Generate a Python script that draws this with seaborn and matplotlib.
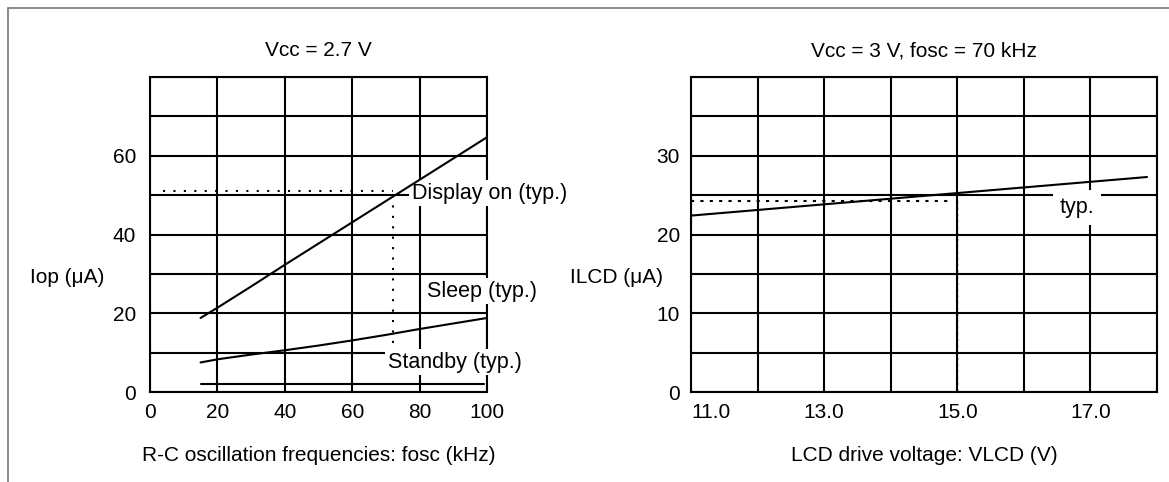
import numpy as np
import pandas as pd
import matplotlib
matplotlib.use("Agg")
import matplotlib.pyplot as plt
import seaborn as sns
from matplotlib.ticker import MultipleLocator
from matplotlib.lines import Line2D

# --- data ---
fosc = [15, 20, 30, 40, 50, 60, 70, 80, 90, 100]
display_on = [18.8, 21.4, 26.8, 32.3, 37.7, 43.1, 48.5, 53.9, 59.3, 64.7]
sleep = [7.5, 8.3, 9.5, 10.6, 11.8, 13.1, 14.5, 16.0, 17.4, 18.8]
standby_x = [15, 99]
standby = [2.0, 2.0]

vlcd = [11.0, 17.85]
ilcd = [22.4, 27.3]

left_xticks = [0, 20, 40, 60, 80, 100]
left_yticks = [0, 20, 40, 60]
right_xticks = [11, 13, 15, 17]
right_xlabels = ["11.0", "13.0", "15.0", "17.0"]
right_yticks = [0, 10, 20, 30]

sns.set_style("white")
plt.rcParams['font.family'] = ['Liberation Sans', 'DejaVu Sans']
plt.rcParams['font.size'] = 15
plt.rcParams['text.color'] = 'black'
plt.rcParams['axes.labelcolor'] = 'black'
plt.rcParams['xtick.color'] = 'black'
plt.rcParams['ytick.color'] = 'black'

W, H = 1169, 482
fig = plt.figure(figsize=(W / 100, H / 100), dpi=100)
ax1 = fig.add_axes([150 / W, 1 - 392 / H, 337 / W, 315 / H])
ax2 = fig.add_axes([691 / W, 1 - 392 / H, 466 / W, 315 / H])

lw = 1.5
box = dict(facecolor='white', edgecolor='none', pad=2)

def style_axes(ax):
    ax.set_axisbelow(True)
    ax.grid(which='both', color='black', linewidth=lw)
    for s in ax.spines.values():
        s.set_color('black')
        s.set_linewidth(lw)
    ax.tick_params(which='both', length=0, labelcolor='black')

# ---- left chart ----
df1 = pd.DataFrame({'fosc': fosc, 'Display on': display_on, 'Sleep': sleep})
sns.lineplot(data=df1, x='fosc', y='Display on', ax=ax1, color='black', lw=lw, zorder=5)
sns.lineplot(data=df1, x='fosc', y='Sleep', ax=ax1, color='black', lw=lw, zorder=5)
sns.lineplot(x=standby_x, y=standby, ax=ax1, color='black', lw=lw, zorder=5)
ax1.plot([4, 72], [51, 51], color='black', lw=1.5, ls=(0, (1, 4)), zorder=5)
ax1.plot([72, 72], [50, 10.5], color='black', lw=1.5, ls=(0, (1, 4)), zorder=5)

ax1.set_xlim(0, 100)
ax1.set_ylim(0, 80)
ax1.set_xticks(left_xticks)
ax1.set_yticks(left_yticks)
ax1.yaxis.set_minor_locator(MultipleLocator(10))
style_axes(ax1)
ax1.tick_params(axis='y', pad=10)
ax1.tick_params(axis='x', pad=8)
ax1.set_title("Vcc = 2.7 V", pad=15, fontsize=15)
ax1.set_xlabel("R-C oscillation frequencies: fosc (kHz)", labelpad=17)
ax1.set_ylabel("Iop (μA)", rotation=0, ha='right', va='center')
ax1.yaxis.set_label_coords(-0.134, 0.365)

ax1.text(77.7, 50.5, "Display on (typ.)", ha='left', va='center', bbox=box,
         zorder=4, clip_on=False, fontsize=15.5)
ax1.text(82.2, 25.6, "Sleep (typ.)", ha='left', va='center', bbox=box,
         zorder=4, clip_on=False, fontsize=15.5)
ax1.text(70.6, 7.6, "Standby (typ.)", ha='left', va='center', bbox=box,
         zorder=4, clip_on=False, fontsize=15.5)

# ---- right chart ----
sns.lineplot(x=vlcd, y=ilcd, ax=ax2, color='black', lw=lw, zorder=5)
ax2.plot([11, 14.9], [24.3, 24.3], color='black', lw=1.5, ls=(0, (1.5, 3)), zorder=5)
ax2.plot([15, 15], [24.3, 0], color='black', lw=1.0, ls=(0, (1.5, 3)), zorder=5)

ax2.set_xlim(11, 18)
ax2.set_ylim(0, 40)
ax2.set_xticks(right_xticks)
ax2.set_xticklabels(right_xlabels)
ax2.set_yticks(right_yticks)
ax2.xaxis.set_minor_locator(MultipleLocator(1))
ax2.yaxis.set_minor_locator(MultipleLocator(5))
style_axes(ax2)
ax2.get_xticklabels()[0].set_ha('left')
ax2.tick_params(axis='y', pad=8)
ax2.tick_params(axis='x', pad=8)
ax2.set_title("Vcc = 3 V, fosc = 70 kHz", pad=15, fontsize=15)
ax2.set_xlabel("LCD drive voltage: VLCD (V)", labelpad=17)
ax2.set_ylabel("ILCD (μA)", rotation=0, ha='right', va='center')
ax2.yaxis.set_label_coords(-0.060, 0.365)

ax2.text(16.54, 23.4, "typ.", ha='left', va='center', fontsize=15.5,
         bbox=dict(facecolor='white', edgecolor='none', pad=5), zorder=4)

# outer frame (left and top edges only are visible)
fx, fy = 7.5 / W, 1 - 7.5 / H
fig.add_artist(Line2D([fx, fx], [0, fy], color='#777777', lw=1.2))
fig.add_artist(Line2D([fx, 1], [fy, fy], color='#777777', lw=1.2))

fig.savefig("out.png", dpi=100)
